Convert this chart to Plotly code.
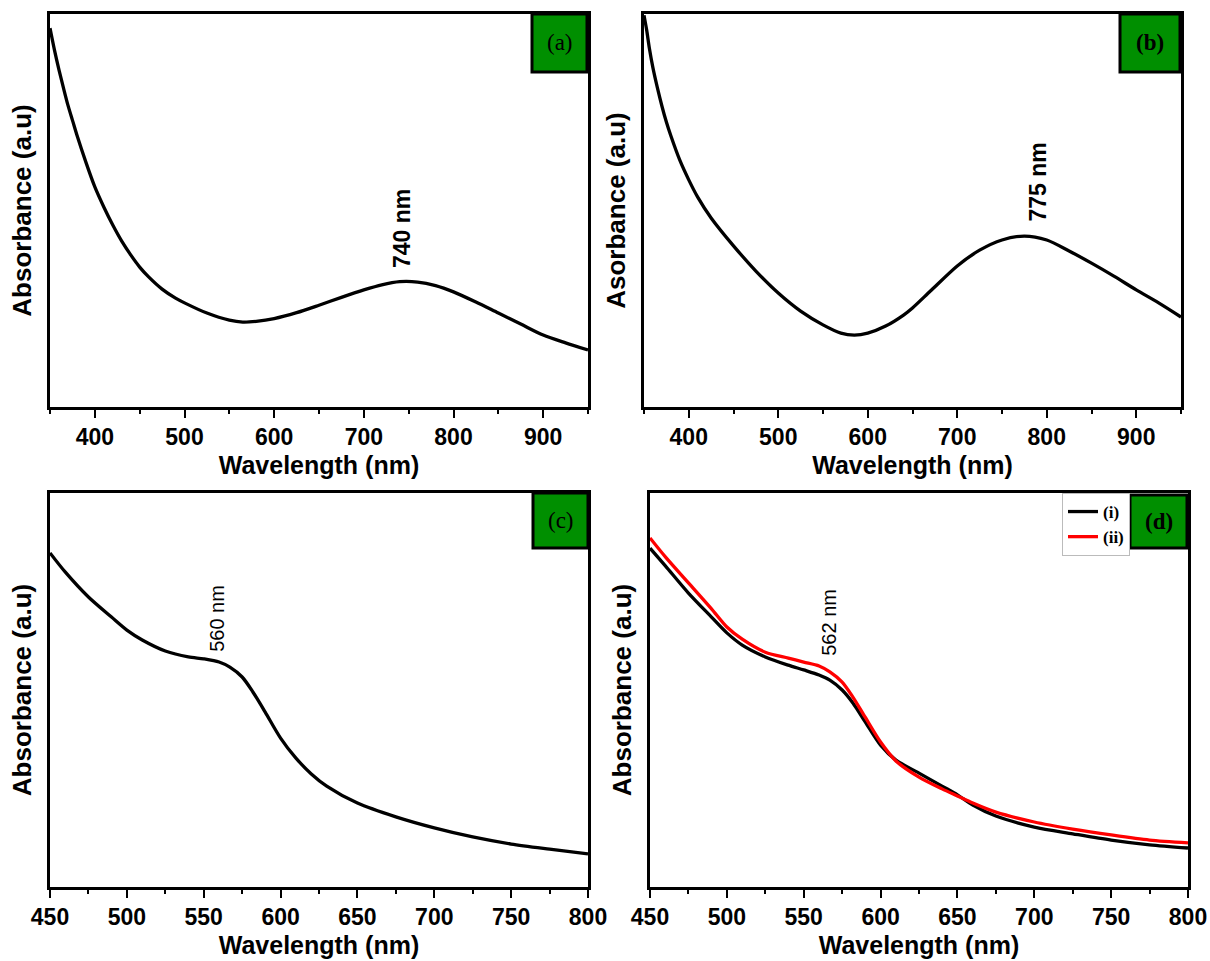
import plotly.graph_objects as go

# ---------------- data ----------------
wl_a = [350, 355, 360, 365, 370, 375, 380, 390, 400, 410, 420, 430, 440, 450, 460, 475, 490, 500, 525, 550, 565, 580,
        600, 625, 650, 675, 700, 720, 740, 760, 780, 800, 825, 850, 875, 900, 925, 950]
abs_a = [0.964, 0.908, 0.858, 0.812, 0.768, 0.730, 0.692, 0.623, 0.560, 0.509, 0.463, 0.422, 0.387, 0.356, 0.331, 0.300,
         0.277, 0.265, 0.239, 0.221, 0.216, 0.218, 0.225, 0.240, 0.259, 0.279, 0.298, 0.311, 0.319, 0.318, 0.309, 0.293,
         0.267, 0.239, 0.211, 0.183, 0.163, 0.145]

wl_b = [350, 353, 356, 360, 365, 370, 375, 380, 390, 400, 410, 425, 450, 475, 500, 525, 550, 570, 585, 600, 620, 640,
        650, 670, 700, 725, 750, 775, 800, 825, 850, 875, 900, 925, 950]
abs_b = [0.997, 0.959, 0.913, 0.863, 0.812, 0.766, 0.725, 0.690, 0.628, 0.578, 0.534, 0.481, 0.410, 0.346, 0.290, 0.244,
         0.209, 0.188, 0.183, 0.188, 0.206, 0.234, 0.252, 0.295, 0.359, 0.399, 0.425, 0.435, 0.425, 0.397, 0.366, 0.333,
         0.298, 0.265, 0.229]

wl_c = [450, 460, 475, 490, 500, 510, 525, 540, 550, 560, 567, 575, 582, 590, 600, 610, 620, 630, 650, 675, 700, 725,
        750, 775, 800]
abs_c = [0.848, 0.799, 0.736, 0.685, 0.652, 0.627, 0.599, 0.584, 0.579, 0.571, 0.558, 0.533, 0.495, 0.444, 0.378, 0.327,
         0.287, 0.256, 0.213, 0.178, 0.150, 0.127, 0.109, 0.096, 0.084]

wl_d = [450, 460, 475, 490, 500, 510, 525, 540, 550, 560, 567, 575, 582, 590, 600, 610, 625, 640, 650, 660, 675, 700,
        725, 750, 775, 800]
abs_d_i = [0.860, 0.815, 0.746, 0.685, 0.645, 0.614, 0.584, 0.563, 0.551, 0.538, 0.525, 0.500, 0.467, 0.419, 0.360,
           0.322, 0.289, 0.256, 0.234, 0.208, 0.180, 0.152, 0.135, 0.119, 0.107, 0.099]
abs_d_ii = [0.886, 0.838, 0.772, 0.706, 0.660, 0.629, 0.596, 0.581, 0.571, 0.561, 0.546, 0.520, 0.482, 0.431, 0.368,
            0.320, 0.279, 0.249, 0.231, 0.213, 0.190, 0.165, 0.147, 0.132, 0.119, 0.112]

panel_labels = ["(a)", "(b)", "(c)", "(d)"]
peak_labels = ["740 nm", "775 nm", "560 nm", "562 nm"]
peak_pos = [(742.6, 0.453), (790, 0.573), (558.6, 0.683), (566.4, 0.673)]
y_titles = ["Absorbance (a.u)", "Asorbance (a.u)", "Absorbance (a.u)", "Absorbance (a.u)"]
legend_names = ["(i)", "(ii)"]

W, H = 1210, 961
SANS = "Liberation Sans, Arial, sans-serif"
SERIF = "Liberation Serif, Times New Roman, serif"

# panel pixel boxes (left, right, top, bottom)
boxes = [(50, 588, 14, 407), (644, 1181, 14, 407), (50, 588, 493, 887), (650, 1188, 493, 887)]
green = [(532, 587, 14, 72), (1120, 1180, 14, 72), (533, 588, 493, 548), (1130, 1187, 495, 548)]

fig = go.Figure()
LW = 3.3
SM = 0.8
fig.add_trace(go.Scatter(x=wl_a, y=abs_a, mode="lines", line=dict(color="black", width=LW, shape="spline", smoothing=SM),
                         xaxis="x", yaxis="y", showlegend=False))
fig.add_trace(go.Scatter(x=wl_b, y=abs_b, mode="lines", line=dict(color="black", width=LW, shape="spline", smoothing=SM),
                         xaxis="x2", yaxis="y2", showlegend=False))
fig.add_trace(go.Scatter(x=wl_c, y=abs_c, mode="lines", line=dict(color="black", width=LW, shape="spline", smoothing=SM),
                         xaxis="x3", yaxis="y3", showlegend=False))
fig.add_trace(go.Scatter(x=wl_d, y=abs_d_i, mode="lines", name=legend_names[0],
                         line=dict(color="black", width=LW, shape="spline", smoothing=SM), xaxis="x4", yaxis="y4"))
fig.add_trace(go.Scatter(x=wl_d, y=abs_d_ii, mode="lines", name=legend_names[1],
                         line=dict(color="red", width=LW, shape="spline", smoothing=SM), xaxis="x4", yaxis="y4"))

layout = dict(width=W, height=H, margin=dict(l=0, r=0, t=0, b=0), plot_bgcolor="white", paper_bgcolor="white",
              font=dict(family=SANS, color="black"))

ranges = [(350, 950, 100, 50), (350, 950, 100, 50), (450, 800, 50, 25), (450, 800, 50, 25)]
for i, (l, r, t, b) in enumerate(boxes):
    sfx = "" if i == 0 else str(i + 1)
    lo, hi, dt, mdt = ranges[i]
    layout["xaxis" + sfx] = dict(
        domain=[l / W, r / W], range=[lo, hi], anchor="y" + sfx, automargin=False,
        showline=True, linecolor="black", linewidth=2.5, mirror=True, showgrid=False, zeroline=False,
        ticks="outside", ticklen=8, tickwidth=2, tickcolor="black", tick0=lo, dtick=dt,
        minor=dict(ticks="outside", ticklen=4, tickwidth=2, tickcolor="black", dtick=mdt, tick0=lo),
        tickfont=dict(family=SANS, size=23, color="black", weight="bold"),
        title=dict(text="<b>Wavelength (nm)</b>", font=dict(family=SANS, size=25, color="black"), standoff=8),
    )
    if i in (0, 1):
        layout["xaxis" + sfx]["tickvals"] = [400, 500, 600, 700, 800, 900]
    layout["yaxis" + sfx] = dict(
        domain=[1 - b / H, 1 - t / H], range=[0, 1], anchor="x" + sfx, automargin=False,
        showline=True, linecolor="black", linewidth=2.5, mirror=True, showgrid=False, zeroline=False,
        showticklabels=False, ticks="",
        title=dict(text="<b>" + y_titles[i] + "</b>", font=dict(family=SANS, size=26, color="black"), standoff=9),
    )

shapes = []
annotations = []
for i, (x0, x1, y0, y1) in enumerate(green):
    shapes.append(dict(type="rect", xref="paper", yref="paper", x0=x0 / W, x1=x1 / W, y0=1 - y1 / H, y1=1 - y0 / H,
                       fillcolor="#008f00", line=dict(color="black", width=3)))
    annotations.append(dict(xref="paper", yref="paper", x=(x0 + x1) / 2 / W, y=1 - (y0 + y1) / 2 / H,
                            text=panel_labels[i], showarrow=False,
                            font=dict(family=SERIF, size=23, color="black", weight="bold" if i in (1, 3) else "normal"),
                            xanchor="center", yanchor="middle"))

for i, (px, py) in enumerate(peak_pos):
    sfx = "" if i == 0 else str(i + 1)
    annotations.append(dict(xref="x" + sfx, yref="y" + sfx, x=px, y=py, text=peak_labels[i], showarrow=False,
                            textangle=-90, xanchor="center", yanchor="middle",
                            font=dict(family=SANS, size=23 if i < 2 else 20, color="black",
                                      weight="bold" if i < 2 else "normal")))

layout["shapes"] = shapes
layout["annotations"] = annotations
layout["showlegend"] = True
layout["legend"] = dict(x=1130 / W, y=1 - 493 / H, xanchor="right", yanchor="top",
                        bgcolor="white", bordercolor="#bbbbbb", borderwidth=1,
                        font=dict(family=SERIF, size=17, color="black", weight="bold"),
                        itemwidth=30, tracegroupgap=0)

fig.update_layout(**layout)
fig.write_html("out.html")
